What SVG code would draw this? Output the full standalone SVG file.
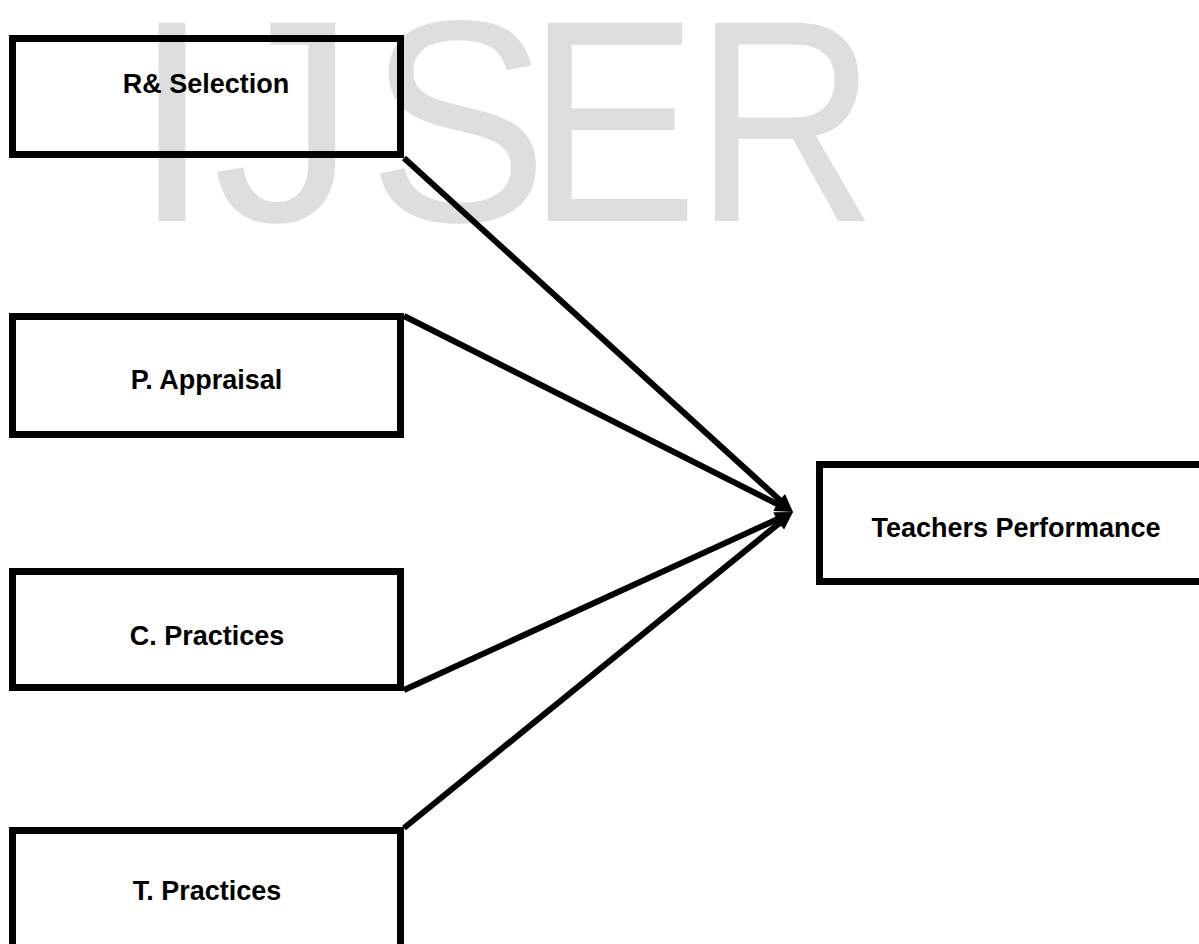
<svg xmlns="http://www.w3.org/2000/svg" width="1199" height="944" viewBox="0 0 1199 944">
  <style>
    .wm { font-family: "Liberation Sans", Arial, sans-serif; font-size: 288px; fill: #dedede; }
    .box { fill: none; stroke: #000; stroke-width: 7; }
    .lbl { font-family: "Liberation Sans", Arial, sans-serif; font-size: 27px; font-weight: bold; fill: #000; text-anchor: middle; }
    .conn { stroke: #000; stroke-width: 6; fill: none; marker-end: url(#arr); }
  </style>
  <defs>
    <marker id="arr" markerUnits="userSpaceOnUse" markerWidth="18" markerHeight="16" refX="6" refY="8" orient="auto" overflow="visible">
      <path d="M0,0 L18,8 L0,16 z" fill="#000"/>
    </marker>
  </defs>
  <rect width="1199" height="944" fill="#fff"/>
  <g id="watermark">
    <text class="wm" transform="translate(132,221)">I</text>
    <text class="wm" transform="translate(212.5,221)">J</text>
    <text class="wm" transform="translate(367.7,221) scale(0.94,1)">S</text>
    <text class="wm" transform="translate(526.6,221) scale(0.894,1)">E</text>
    <text class="wm" transform="translate(694.1,221) scale(0.88,1)">R</text>
  </g>
  <g id="connectors">
    <line class="conn" x1="404" y1="158" x2="784.1" y2="503.9"/>
    <line class="conn" x1="404" y1="316" x2="782.3" y2="506.6"/>
    <line class="conn" x1="404" y1="690" x2="782.1" y2="517.0"/>
    <line class="conn" x1="404" y1="828" x2="783.7" y2="519.6"/>
  </g>
  <g id="node-rselection">
    <rect class="box" x="12.5" y="38.5" width="388" height="116"/>
    <text class="lbl" x="206" y="93">R&amp; Selection</text>
  </g>
  <g id="node-pappraisal">
    <rect class="box" x="12.5" y="316.5" width="388" height="118"/>
    <text class="lbl" x="206.5" y="389">P. Appraisal</text>
  </g>
  <g id="node-cpractices">
    <rect class="box" x="12.5" y="571.5" width="388" height="116"/>
    <text class="lbl" x="207" y="645">C. Practices</text>
  </g>
  <g id="node-tpractices">
    <rect class="box" x="12.5" y="830.5" width="388" height="130"/>
    <text class="lbl" x="207" y="900">T. Practices</text>
  </g>
  <g id="node-teachers">
    <rect class="box" x="819.5" y="464.5" width="400" height="117"/>
    <text class="lbl" x="1016" y="537">Teachers Performance</text>
  </g>
</svg>
